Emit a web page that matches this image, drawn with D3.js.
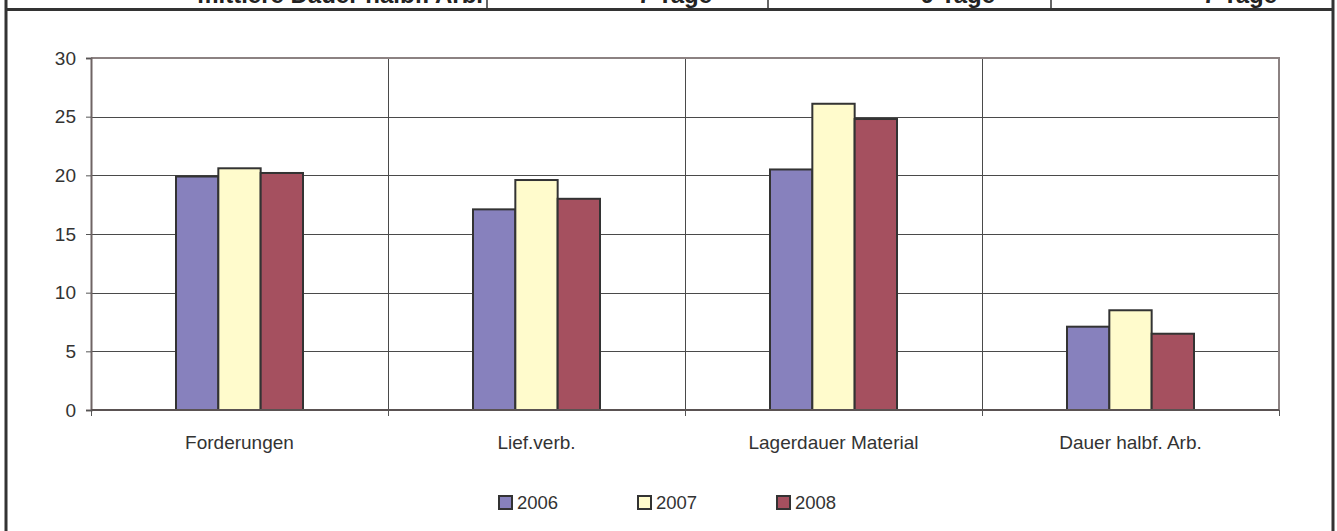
<!DOCTYPE html>
<html>
<head>
<meta charset="utf-8">
<script src="https://cdn.jsdelivr.net/npm/d3@7"></script>
<style>
  html, body { margin: 0; padding: 0; background: #fff; }
  svg { display: block; font-family: "Liberation Sans", Arial, sans-serif; }
</style>
</head>
<body>
<svg id="chart" width="1337" height="531"></svg>
<script>
// Durations in days per category and year
const categories = ["Forderungen", "Lief.verb.", "Lagerdauer Material", "Dauer halbf. Arb."];
const years = ["2006", "2007", "2008"];
const values2006 = [19.9, 17.1, 20.5, 7.1];
const values2007 = [20.6, 19.6, 26.1, 8.5];
const values2008 = [20.2, 18.0, 24.8, 6.5];
const yTicks = [0, 5, 10, 15, 20, 25, 30];

// Last visible row of the summary table above the chart
const tableRow = ["mittlere Dauer halbf. Arb.", "7 Tage", "9 Tage", "7 Tage"];

const seriesValues = [values2006, values2007, values2008];
const colors = ["#8781BD", "#FFFBCC", "#A5505F"];

const svg = d3.select("#chart");
const W = 1337, H = 531;
const plot = { left: 91, right: 1279, top: 58, bottom: 410 };
const labelSize = 19;

// --- table remnant and frame ---
const cellEdges = [5, 487, 768, 1051, 1333];
const rowG = svg.append("g");
tableRow.forEach((t, i) => {
  rowG.append("text")
    .attr("x", cellEdges[i + 1] - (i === 0 ? 4 : 56))
    .attr("y", 3)
    .attr("text-anchor", "end")
    .attr("font-weight", "bold")
    .attr("font-size", 24)
    .attr("fill", "#222")
    .text(t);
});
cellEdges.slice(1, 4).forEach(x => {
  rowG.append("line").attr("x1", x).attr("x2", x).attr("y1", 0).attr("y2", 9)
    .attr("stroke", "#333").attr("stroke-width", 1.5);
});
svg.append("line").attr("x1", 5).attr("x2", 1334).attr("y1", 9.5).attr("y2", 9.5)
  .attr("stroke", "#333").attr("stroke-width", 3);
svg.append("line").attr("x1", 6).attr("x2", 6).attr("y1", 0).attr("y2", H)
  .attr("stroke", "#333").attr("stroke-width", 3);
svg.append("line").attr("x1", 1333).attr("x2", 1333).attr("y1", 0).attr("y2", H)
  .attr("stroke", "#333").attr("stroke-width", 3);

// --- scales ---
const x0 = d3.scaleBand().domain(categories).range([plot.left, plot.right]).padding(0);
const groupWidth = 127;
const x1 = d3.scaleBand().domain(years).range([0, groupWidth]).padding(0);
const y = d3.scaleLinear().domain([0, 30]).range([plot.bottom, plot.top]);

// horizontal gridlines
svg.append("g").selectAll("line").data(yTicks.filter(d => d > 0 && d < 30)).join("line")
  .attr("x1", plot.left).attr("x2", plot.right)
  .attr("y1", d => Math.round(y(d)) + 0.5).attr("y2", d => Math.round(y(d)) + 0.5)
  .attr("stroke", "#4a4a4a").attr("stroke-width", 1);

// vertical gridlines at category boundaries
svg.append("g").selectAll("line").data(categories.slice(1)).join("line")
  .attr("x1", d => Math.round(x0(d)) + 0.5).attr("x2", d => Math.round(x0(d)) + 0.5)
  .attr("y1", plot.top).attr("y2", plot.bottom)
  .attr("stroke", "#4a4a4a").attr("stroke-width", 1);

// plot-area border (top and right)
svg.append("path")
  .attr("d", `M${plot.left},${plot.top}H${plot.right}V${plot.bottom}`)
  .attr("fill", "none").attr("stroke", "#8c8282").attr("stroke-width", 2);

// bars
const groups = svg.append("g").selectAll("g").data(categories).join("g")
  .attr("transform", d => `translate(${x0(d) + (x0.bandwidth() - groupWidth) / 2},0)`);
groups.selectAll("rect")
  .data((d, i) => years.map((yr, k) => ({ yr, k, v: seriesValues[k][i] })))
  .join("rect")
  .attr("x", d => x1(d.yr))
  .attr("width", x1.bandwidth())
  .attr("y", d => y(d.v))
  .attr("height", d => y(0) - y(d.v))
  .attr("fill", d => colors[d.k])
  .attr("stroke", "#333")
  .attr("stroke-width", 2);

// y axis
const yAxis = d3.axisLeft(y).tickValues(yTicks).tickSize(5).tickPadding(10);
const yg = svg.append("g").attr("transform", `translate(${plot.left},0)`).call(yAxis);
yg.select(".domain").attr("stroke", "#6f6464").attr("stroke-width", 2);
yg.selectAll(".tick line").attr("stroke", "#555");
yg.selectAll(".tick text").attr("font-size", labelSize).attr("fill", "#333")
  .attr("font-family", "'Liberation Sans', Arial, sans-serif");

// x axis with ticks at category boundaries
const bounds = categories.map(c => x0(c)).concat([plot.right]);
const xg = svg.append("g");
xg.append("line").attr("x1", plot.left).attr("x2", plot.right)
  .attr("y1", plot.bottom).attr("y2", plot.bottom)
  .attr("stroke", "#5a5252").attr("stroke-width", 2);
xg.selectAll("line.tk").data(bounds).join("line").attr("class", "tk")
  .attr("x1", d => Math.round(d) + 0.5).attr("x2", d => Math.round(d) + 0.5)
  .attr("y1", plot.bottom).attr("y2", plot.bottom + 6)
  .attr("stroke", "#555");
xg.selectAll("text").data(categories).join("text")
  .attr("x", d => x0(d) + x0.bandwidth() / 2)
  .attr("y", 449)
  .attr("text-anchor", "middle")
  .attr("font-size", labelSize)
  .attr("fill", "#333")
  .text(d => d);

// legend, centred below the plot
const legendX = [499, 638, 777];
const lg = svg.append("g");
years.forEach((yr, k) => {
  lg.append("rect").attr("x", legendX[k]).attr("y", 496).attr("width", 13).attr("height", 13)
    .attr("fill", colors[k]).attr("stroke", "#333").attr("stroke-width", 2);
  lg.append("text").attr("x", legendX[k] + 18).attr("y", 509)
    .attr("font-size", 18.5).attr("fill", "#333").text(yr);
});
</script>
</body>
</html>
